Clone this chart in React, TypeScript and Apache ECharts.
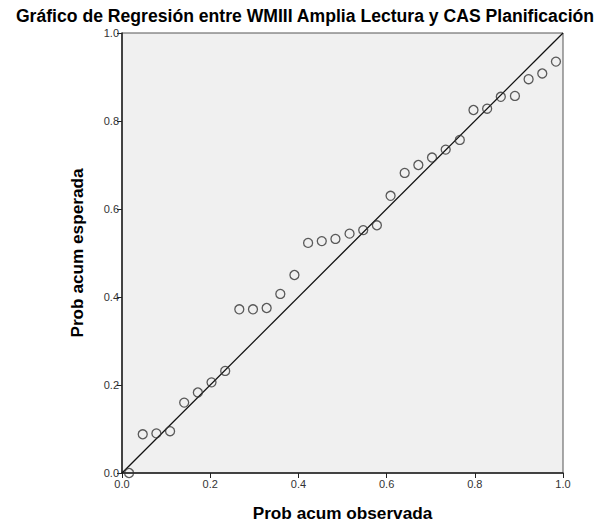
import React, { useEffect, useRef } from "react";
import * as echarts from "echarts";

const titleText = "Gráfico de Regresión entre WMIII Amplia Lectura y CAS Planificación";
const xName = "Prob acum observada";
const yName = "Prob acum esperada";
const observed = [
  0.016, 0.047, 0.078, 0.109, 0.141, 0.172, 0.203, 0.234, 0.266, 0.297, 0.328,
  0.359, 0.391, 0.422, 0.453, 0.484, 0.516, 0.547, 0.578, 0.609, 0.641, 0.672,
  0.703, 0.734, 0.766, 0.797, 0.828, 0.859, 0.891, 0.922, 0.953, 0.984,
];
const expected = [
  0.0, 0.088, 0.09, 0.095, 0.16, 0.183, 0.206, 0.232, 0.372, 0.372, 0.375,
  0.407, 0.45, 0.523, 0.527, 0.532, 0.544, 0.552, 0.563, 0.63, 0.682, 0.7,
  0.717, 0.735, 0.757, 0.825, 0.828, 0.855, 0.857, 0.895, 0.908, 0.935,
];
const refLine = [
  [0, 0],
  [1, 1],
];

export default function App() {
  const ref = useRef<HTMLDivElement>(null);
  useEffect(() => {
    if (!ref.current) return;
    const chart = echarts.init(ref.current, null, { renderer: "svg" });
    const font = "'Liberation Sans', Arial, sans-serif";
    chart.setOption({
      animation: false,
      backgroundColor: "#ffffff",
      graphic: [
        {
          type: "text",
          x: 305,
          y: 16,
          style: {
            text: titleText,
            fontFamily: font,
            fontSize: 17.6,
            fontWeight: "bold",
            fill: "#000",
            align: "center",
            verticalAlign: "middle",
            textAlign: "center",
            textVerticalAlign: "middle",
          },
        },
      ],
      grid: {
        left: 122,
        right: 50,
        top: 33,
        bottom: 54,
        containLabel: false,
        outerBoundsMode: "none",
        show: true,
        backgroundColor: "#f0f0f0",
        borderColor: "#555",
        borderWidth: 1,
      },
      xAxis: {
        type: "value",
        min: 0,
        max: 1,
        interval: 0.2,
        name: xName,
        nameLocation: "middle",
        nameGap: 31,
        nameTextStyle: { fontFamily: font, fontSize: 17.2, fontWeight: "bold", color: "#000" },
        axisLine: { show: true, lineStyle: { color: "#222", width: 1.5 } },
        axisTick: { show: true, length: 5, lineStyle: { color: "#222" } },
        axisLabel: {
          fontFamily: font,
          fontSize: 11,
          color: "#333",
          margin: 5,
          formatter: (v: number) => v.toFixed(1),
        },
        splitLine: { show: false },
      },
      yAxis: {
        type: "value",
        min: 0,
        max: 1,
        interval: 0.2,
        name: yName,
        nameLocation: "middle",
        nameGap: 37,
        nameTextStyle: { fontFamily: font, fontSize: 17.2, fontWeight: "bold", color: "#000" },
        axisLine: { show: true, lineStyle: { color: "#222", width: 1.5 } },
        axisTick: { show: true, length: 5, lineStyle: { color: "#222" } },
        axisLabel: {
          fontFamily: font,
          fontSize: 11,
          color: "#333",
          margin: 3,
          formatter: (v: number) => v.toFixed(1),
        },
        splitLine: { show: false },
      },
      series: [
        {
          type: "line",
          data: refLine,
          symbol: "none",
          lineStyle: { color: "#111", width: 1.3 },
          silent: true,
          z: 2,
        },
        {
          type: "scatter",
          data: observed.map((x, i) => [x, expected[i]]),
          symbol: "circle",
          symbolSize: 9,
          itemStyle: { color: "rgba(0,0,0,0)", borderColor: "#333", borderWidth: 1.3 },
          z: 3,
        },
      ],
    });
    return () => chart.dispose();
  }, []);
  return <div ref={ref} style={{ width: 613, height: 527, margin: -8 }} />;
}
